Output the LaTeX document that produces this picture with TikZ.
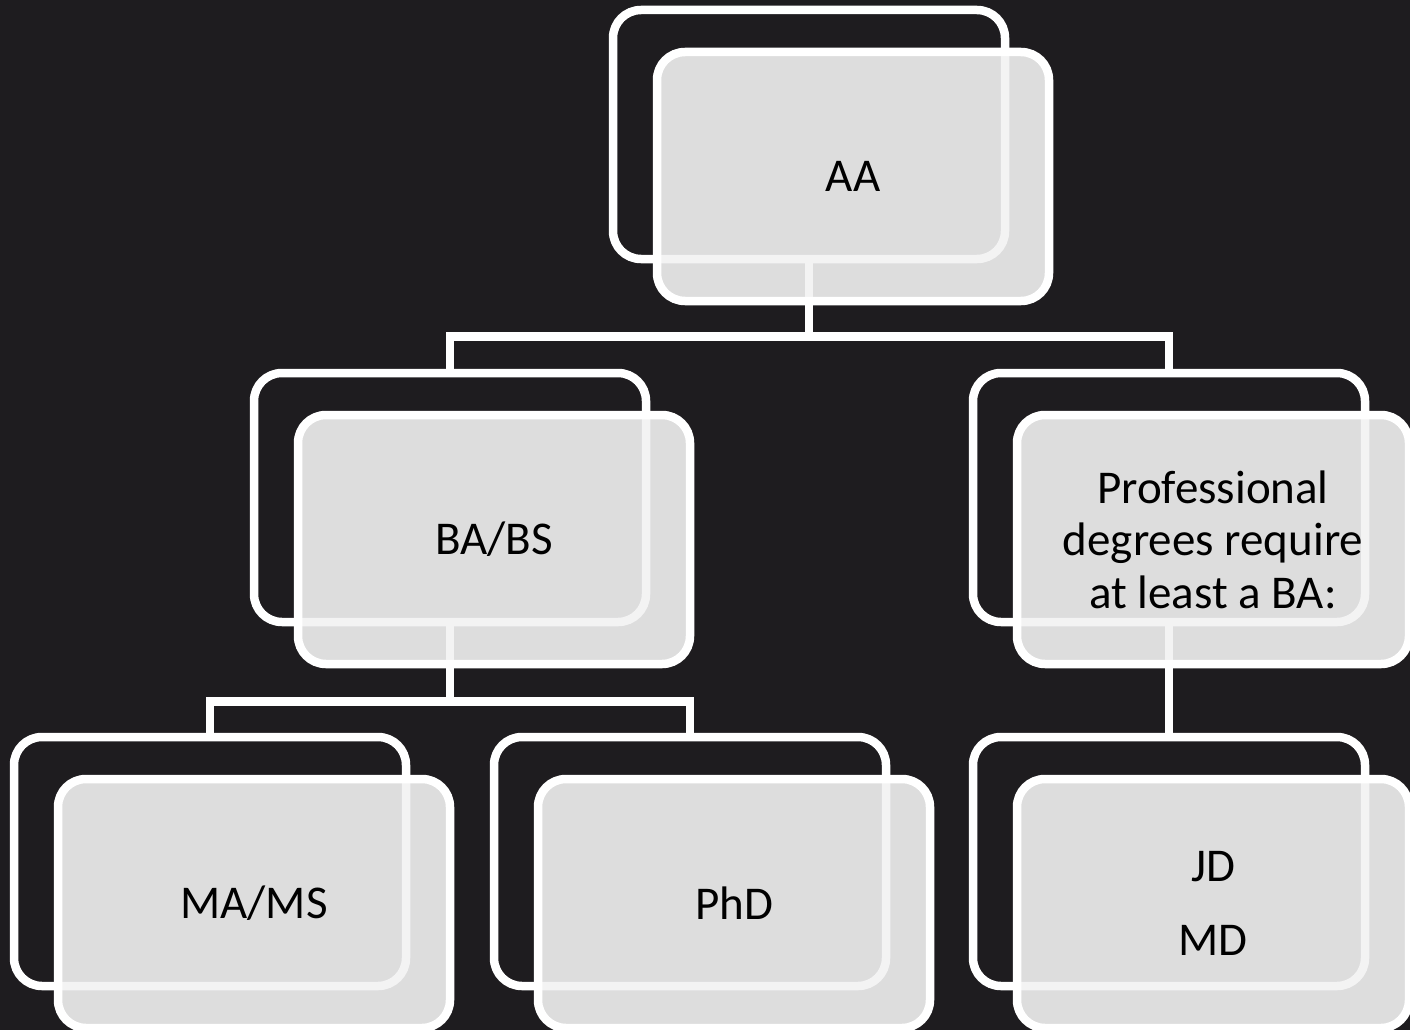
\documentclass[tikz,border=0pt]{standalone}
\usepackage{fontspec}
\setmainfont{Carlito}
\usepackage{xcolor}
\usetikzlibrary{positioning}

\definecolor{bgdark}{HTML}{1E1C1F}
\definecolor{boxfill}{HTML}{F2F2F2}

\begin{document}
\begin{tikzpicture}[x=1pt, y=-1pt,
		backbox/.style = {draw=white, line width=8.5pt, rounded corners=28pt, minimum width=392pt, minimum height=249pt, inner sep=0pt},
		frontbox/.style = {backbox, fill=boxfill, fill opacity=0.9, text opacity=1, text=black, font=\fontsize{47}{52.5}\selectfont, align=center},
		link/.style = {draw=white, line width=8.5pt}]
		\def\dx{44pt};
		\def\dy{42pt};

		\fill[bgdark] (0,0) rectangle (1410,1030);
		\useasboundingbox (0,0) rectangle (1410,1030);

		% outlines behind
		\node[backbox] (aa-b) at (809,134.5) {};
		\node[backbox] (ba-b) at (450,497.5) {};
		\node[backbox] (pr-b) at (1169,497.5) {};
		\node[backbox] (ma-b) at (210,861.5) {};
		\node[backbox] (ph-b) at (690,861.5) {};
		\node[backbox] (jd-b) at (1169,861.5) {};

		% links
		\draw[link] (aa-b.south) -- ++(0,73) coordinate (aa-j) -| (ba-b.north);
		\draw[link] (aa-j) -| (pr-b.north);
		\draw[link] (ba-b.south) -- ++(0,75) coordinate (ba-j) -| (ma-b.north);
		\draw[link] (ba-j) -| (ph-b.north);
		\draw[link] (pr-b.south) -- (jd-b.north);

		% filled boxes in front
		\node[frontbox, on grid, below right=\dy and \dx of aa-b] (aa) {AA};
		\node[frontbox, on grid, below right=\dy and \dx of ba-b] (ba) {BA/BS};
		\node[frontbox, on grid, below right=\dy and \dx of pr-b] (pr) {Professional\\degrees require\\at least a BA:};
		\node[frontbox, on grid, below right=\dy and \dx of ma-b] (ma) {MA/MS};
		\node[frontbox, on grid, below right=\dy and \dx of ph-b] (ph) {PhD};
		\node[frontbox, on grid, below right=\dy and \dx of jd-b] (jd) {JD\\[22pt]MD};
	\end{tikzpicture}
\end{document}
